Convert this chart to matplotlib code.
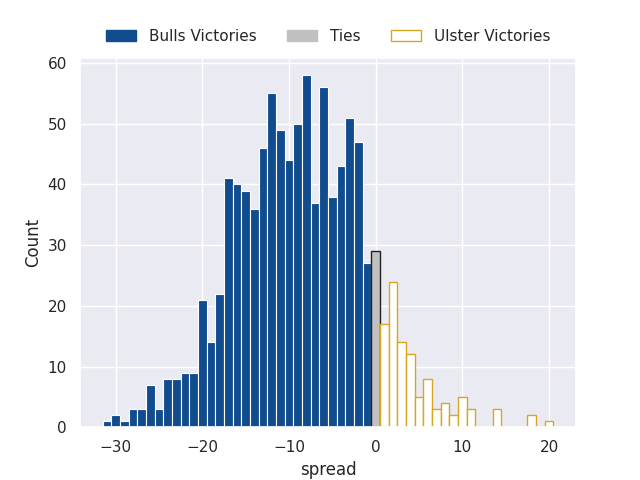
import matplotlib
matplotlib.use("Agg")
import matplotlib.pyplot as plt
import seaborn as sns
from matplotlib.patches import Patch

sns.set_theme(style="darkgrid")

# spread value -> count (integer bins)
bulls_spread = list(range(-31, 0))
bulls_count = [1, 2, 1, 3, 3, 7, 3, 8, 8, 9, 9, 21, 14, 22, 41, 40, 39, 36,
               46, 55, 49, 44, 50, 58, 37, 56, 38, 43, 51, 47, 27]
ties_spread = [0]
ties_count = [29]
ulster_spread = [1, 2, 3, 4, 5, 6, 7, 8, 9, 10, 11, 14, 18, 20]
ulster_count = [17, 24, 14, 12, 5, 8, 3, 4, 2, 5, 3, 3, 2, 1]

blue = "#114C8F"
grey = "#C0C0C0"
gold = "#DAA520"

fig, ax = plt.subplots(figsize=(6.4, 4.8), dpi=100)

ax.bar(bulls_spread, bulls_count, width=1, color=blue, edgecolor="white", linewidth=0.8)
ax.bar(ties_spread, ties_count, width=1, color=grey, edgecolor="#222222", linewidth=1)
ax.bar(ulster_spread, ulster_count, width=1, color="white", edgecolor=gold, linewidth=1)

ax.set_xlabel("spread")
ax.set_ylabel("Count")

handles = [Patch(facecolor=blue, edgecolor=blue, label="Bulls Victories"),
           Patch(facecolor=grey, edgecolor=grey, label="Ties"),
           Patch(facecolor="white", edgecolor=gold, label="Ulster Victories")]
ax.legend(handles=handles, loc="lower center", bbox_to_anchor=(0.5, 1.0),
          ncol=3, frameon=False)

plt.savefig("out.png")
